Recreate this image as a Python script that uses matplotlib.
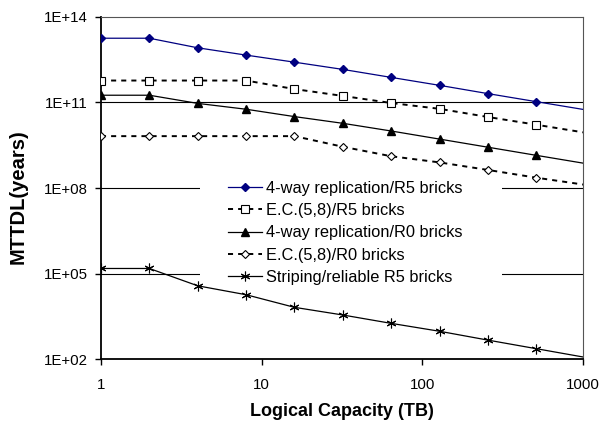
import matplotlib
matplotlib.use("Agg")
import matplotlib.pyplot as plt
from matplotlib.patches import Rectangle
import numpy as np

plt.rcParams['font.family'] = ['Liberation Sans', 'DejaVu Sans']

capacity = [1, 2, 4, 8, 16, 32, 64, 128, 256, 512, 1024]
rep4_r5 = [1.8e13, 1.8e13, 8.3e12, 4.6e12, 2.6e12, 1.45e12, 7.6e11, 4.0e11, 2.05e11, 1.07e11, 5.6e10]
ec58_r5 = [5.9e11, 5.9e11, 5.9e11, 5.9e11, 2.96e11, 1.7e11, 9.6e10, 6.0e10, 3.1e10, 1.66e10, 8.8e9]
rep4_r0 = [1.8e11, 1.8e11, 9.3e10, 5.8e10, 3.2e10, 1.86e10, 1.0e10, 5.2e9, 2.7e9, 1.4e9, 7.3e8]
ec58_r0 = [6.6e9, 6.6e9, 6.6e9, 6.6e9, 6.6e9, 2.8e9, 1.3e9, 7.9e8, 4.3e8, 2.3e8, 1.3e8]
striping = [1.5e5, 1.5e5, 3.7e4, 1.8e4, 6.5e3, 3.5e3, 1.78e3, 9.4e2, 4.6e2, 2.3e2, 1.15e2]

labels = ["4-way replication/R5 bricks", "E.C.(5,8)/R5 bricks",
          "4-way replication/R0 bricks", "E.C.(5,8)/R0 bricks",
          "Striping/reliable R5 bricks"]
yticks = [1e2, 1e5, 1e8, 1e11, 1e14]
ytick_labels = ["1E+02", "1E+05", "1E+08", "1E+11", "1E+14"]
xticks = [1, 10, 100, 1000]
xtick_labels = ["1", "10", "100", "1000"]

W, H = 603, 423
fig = plt.figure(figsize=(W/100, H/100), dpi=100)
ax = fig.add_axes([101/W, 1-359/H, (583-101)/W, (359-17)/H])
ax.set_xscale('log')
ax.set_yscale('log')
ax.set_xlim(1, 1000)
ax.set_ylim(1e2, 1e14)

me = slice(0, 10)
ax.plot(capacity, rep4_r5, color='#000080', lw=0.9, marker='D', ms=4.5,
        mfc='#000080', mec='#000080', markevery=me, label=labels[0], zorder=3)
ax.plot(capacity, ec58_r5, color='black', lw=1.4, ls=(0, (2.6, 2.6)), marker='s', ms=6,
        mfc='white', mec='black', mew=0.8, markevery=me, label=labels[1], zorder=3)
ax.plot(capacity, rep4_r0, color='black', lw=0.9, marker='^', ms=6,
        mfc='black', mec='black', markevery=me, label=labels[2], zorder=3)
ax.plot(capacity, ec58_r0, color='black', lw=1.4, ls=(0, (2.6, 2.6)), marker='D', ms=4.5,
        mfc='white', mec='black', mew=0.8, markevery=me, label=labels[3], zorder=3)
ax.plot(capacity, striping, color='black', lw=0.9, marker=(6, 2, 0), ms=7,
        mfc='black', mec='black', mew=0.8, markevery=me, label=labels[4], zorder=3)

ax.set_yticks(yticks)
ax.set_yticklabels(ytick_labels)
ax.set_xticks(xticks)
ax.set_xticklabels(xtick_labels)
ax.minorticks_off()
ax.tick_params(axis='y', direction='out', length=4.5, width=1, pad=5, labelsize=10.8)
ax.tick_params(axis='x', direction='out', length=4, width=1, pad=9.5, labelsize=10.8)

for y in yticks[1:4]:
    ax.axhline(y, color='black', lw=0.8, zorder=0.5)

# legend background (white) hiding the gridlines
ax.add_patch(Rectangle(((200-101)/482, (359-289)/342), (502-200)/482, (289-181)/342,
                       transform=ax.transAxes, facecolor='white', edgecolor='none', zorder=1))

for s in ['left', 'bottom']:
    ax.spines[s].set_linewidth(1.3)
    ax.spines[s].set_color('black')
for s in ['top', 'right']:
    ax.spines[s].set_linewidth(0.8)
    ax.spines[s].set_color('#555555')

ax.set_xlabel("Logical Capacity (TB)", fontsize=13, fontweight='bold')
ax.set_ylabel("MTTDL(years)", fontsize=14.5, fontweight='bold')
ax.xaxis.set_label_coords(0.5, (359-403)/342)
ax.yaxis.set_label_coords((28-101)/482, (359-197)/342)

leg = ax.legend(loc='upper left', bbox_to_anchor=(228/W, 1-180.5/H),
                bbox_transform=fig.transFigure, frameon=False, fontsize=11.8,
                borderpad=0, borderaxespad=0, handlelength=2.07, handletextpad=0.25,
                labelspacing=0.45)
leg.set_zorder(5)

fig.savefig("out.png", dpi=100)
